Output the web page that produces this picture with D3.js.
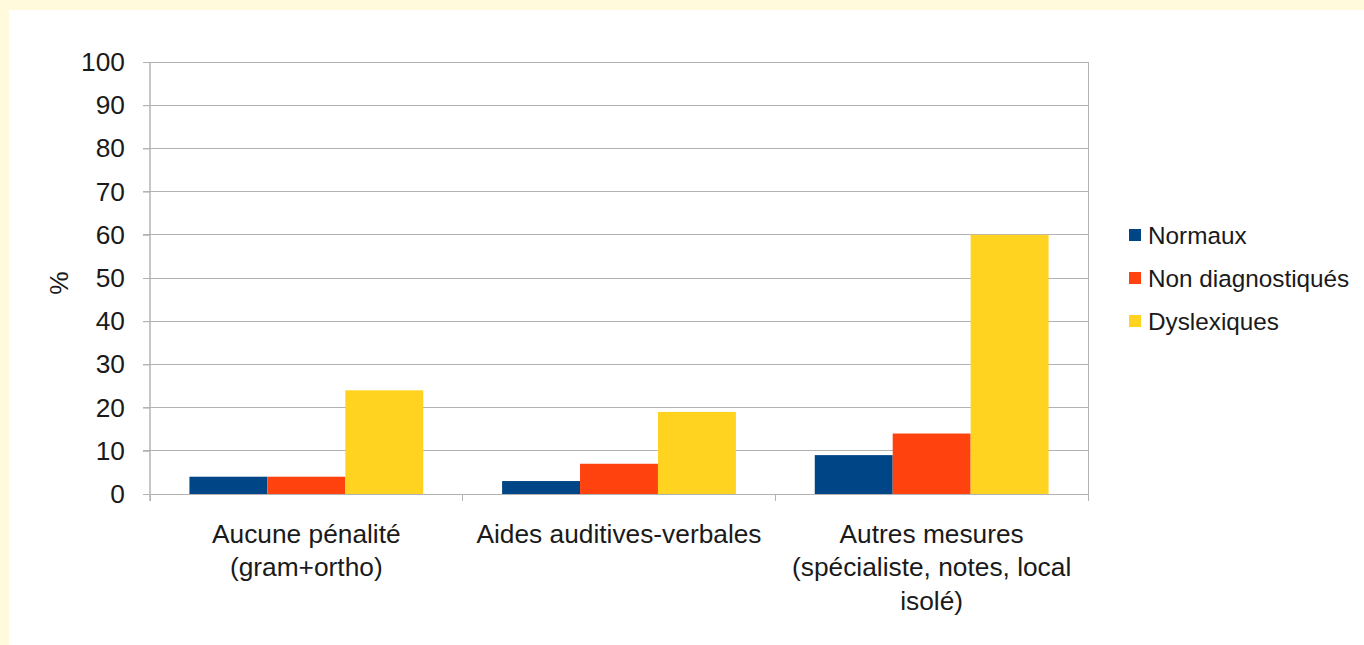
<!DOCTYPE html>
<html><head><meta charset="utf-8">
<script src="https://cdn.jsdelivr.net/npm/d3@7"></script>
<style>
html,body{margin:0;padding:0;background:#fffadc;}
svg{display:block;}
text{font-family:"Liberation Sans",Arial,sans-serif;fill:#1a1a1a;}
</style></head><body>
<svg id="c" width="1364" height="645"></svg>
<script>
const categories = [["Aucune pénalité","(gram+ortho)"],["Aides auditives-verbales"],["Autres mesures","(spécialiste, notes, local","isolé)"]];
const seriesNames = ["Normaux","Non diagnostiqués","Dyslexiques"];
const colors = ["#004586","#ff420e","#ffd320"];
const normaux = [4,3,9];
const nonDiag = [4,7,14];
const dyslexiques = [24,19,60];
const yTicks = [0,10,20,30,40,50,60,70,80,90,100];

const FS = 26.3, LFS = 24.3;
const series = [normaux, nonDiag, dyslexiques];
const svg = d3.select("#c");
svg.append("rect").attr("x",9).attr("y",10).attr("width",1355).attr("height",635).attr("fill","#fff");

const L=150,R=1088,T=62,B=494;
const x0 = d3.scaleBand().domain(d3.range(categories.length)).range([L,R]).paddingInner(0).paddingOuter(0);
const x1 = d3.scaleBand().domain(d3.range(series.length)).range([0,x0.bandwidth()]).paddingOuter(0.506).paddingInner(0);
const y = d3.scaleLinear().domain([0,100]).range([B,T]);

// grid
svg.append("g").selectAll("line").data(yTicks).join("line")
  .attr("x1",143).attr("x2",R).attr("y1",d=>y(d)).attr("y2",d=>y(d))
  .attr("stroke","#b3b3b3").attr("stroke-width",1).attr("shape-rendering","crispEdges");
// right border
svg.append("line").attr("x1",R).attr("x2",R).attr("y1",T).attr("y2",B+7).attr("stroke","#b3b3b3").attr("shape-rendering","crispEdges");

// bars
const g = svg.append("g");
series.forEach((s,si)=>{
  g.selectAll(".b"+si).data(s).join("rect")
    .attr("x",(d,i)=>x0(i)+x1(si))
    .attr("width",x1.bandwidth())
    .attr("y",d=>y(d)).attr("height",d=>B-y(d))
    .attr("fill",colors[si]);
});

// y axis
const ya = svg.append("g").attr("transform",`translate(${L},0)`)
  .call(d3.axisLeft(y).tickValues(yTicks).tickSize(7).tickPadding(18));
ya.selectAll(".tick line").attr("stroke","#b3b3b3");
ya.selectAll("text").attr("font-size",FS).attr("fill","#1a1a1a").attr("font-family","Liberation Sans, Arial, sans-serif");
ya.select(".domain").remove();
svg.append("line").attr("x1",L).attr("x2",L).attr("y1",T).attr("y2",B+7).attr("stroke","#b3b3b3").attr("stroke-width",1.5);

// category ticks
svg.append("g").selectAll("line").data(d3.range(categories.length+1)).join("line")
  .attr("x1",i=>i<categories.length?x0(i):R).attr("x2",i=>i<categories.length?x0(i):R)
  .attr("y1",B).attr("y2",B+7).attr("stroke","#b3b3b3").attr("shape-rendering","crispEdges");

// x labels
const xl = svg.append("g");
categories.forEach((lines,i)=>{
  const cx = x0(i)+x0.bandwidth()/2;
  const t = xl.append("text").attr("text-anchor","middle").attr("font-size",FS)
    .attr("x",cx).attr("y",543);
  lines.forEach((ln,j)=>t.append("tspan").attr("x",cx).attr("dy",j===0?0:33.3).text(ln));
});

// y title
svg.append("text").attr("transform","translate(68,283) rotate(-90)").attr("text-anchor","middle")
  .attr("font-size",FS).text("%");

// legend
const lg = svg.append("g");
seriesNames.forEach((n,i)=>{
  const yy = 243.5 + i*43;
  lg.append("rect").attr("x",1129).attr("y",yy-14.5).attr("width",12).attr("height",12).attr("fill",colors[i]);
  lg.append("text").attr("x",1148).attr("y",yy).attr("font-size",LFS).text(n);
});
</script></body></html>
